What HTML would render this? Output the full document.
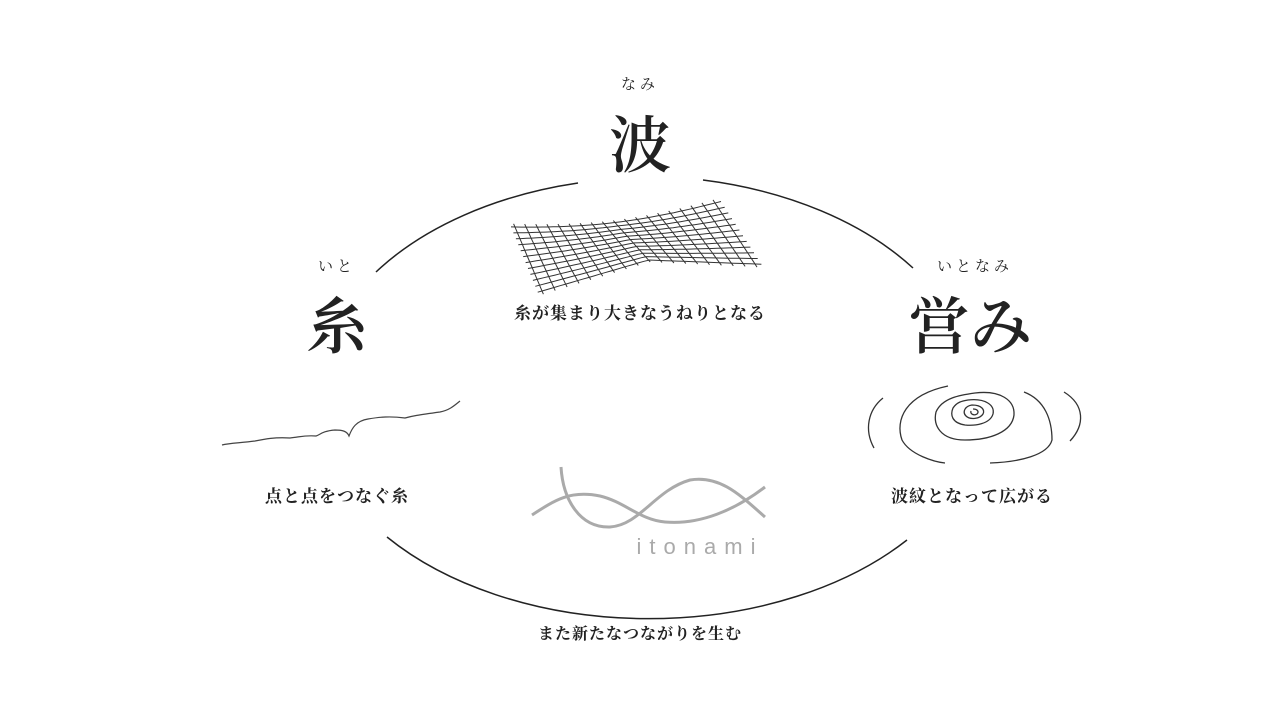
<!DOCTYPE html>
<html><head><meta charset="utf-8"><style>
html,body{margin:0;padding:0;background:#fff;}
#c{position:relative;width:1280px;height:720px;overflow:hidden;font-family:"Liberation Serif","Noto Serif CJK SC","Noto Sans CJK JP",serif;color:#222;}
.t{position:absolute;transform:translateX(-50%);white-space:nowrap;line-height:1;}
.r{font-size:15px;letter-spacing:4px;}
.b{font-size:62px;font-weight:600;}
.cap{font-size:17px;font-weight:bold;letter-spacing:1px;}
svg{position:absolute;left:0;top:0;}
</style></head><body><div id="c">
<svg width="1280" height="720" id="s">
<g fill="none" stroke="#222" stroke-width="1.5">
<path d="M376,272 A335,217 0 0 1 578,183"/>
<path d="M703,180 A335,217 0 0 1 913,268"/>
<path d="M387,537 A335,217 0 0 0 907,540"/>
</g>
<path fill="none" stroke="#444" stroke-width="1.2" d="M222,445 C230,443 240,443 255,441 C265,439 275,437 290,438 C300,437 305,435 316,436 C320,435 322,431 335,430 C342,430 347,431 349,436 C352,428 356,421 368,419 C380,417 390,416 405,418 C412,416 418,415 440,412 C450,410 455,405 460,401"/>
<g fill="none" stroke="#333" stroke-width="1.3">
<path d="M883,398 C868,410 864,430 874,448"/>
<path d="M948,386 C905,395 895,420 902,440 C910,455 935,462 945,463"/>
<path d="M1024,392 C1045,400 1052,420 1052,440 C1048,455 1020,462 990,463"/>
<path d="M1064,392 C1085,405 1085,425 1070,441"/>
<path d="M975,393 C1000,390 1015,400 1014,415 C1012,432 990,440 965,440 C940,440 933,425 936,412 C942,398 960,395 975,393 Z"/>
<path d="M968,400 C985,398 995,405 993,414 C990,424 975,426 965,425 C952,423 950,415 953,408 C957,402 962,401 968,400 Z"/>
<path d="M972,405 C982,405 985,410 983,414 C980,419 970,420 966,416 C962,412 965,406 972,405 Z"/>
<path d="M973,409 C978,409 979,412 977,414 C974,416 970,414 971,411"/>
</g>
<g fill="none" stroke="#aaa" stroke-width="3">
<path d="M532,515 C555,500 570,490 600,496 C625,502 640,520 665,522 C700,525 735,510 765,487"/>
<path d="M561,467 C563,500 580,528 610,527 C640,525 655,490 690,480 C720,475 740,495 765,517"/>
</g>
<g id="mesh" fill="none" stroke="#333" stroke-width="1"></g>
</svg>
<div class="t r" style="left:640px;top:78px;">なみ</div>
<div class="t b" style="left:640px;top:116px;">波</div>
<div class="t r" style="left:337px;top:260px;">いと</div>
<div class="t b" style="left:337px;top:297px;">糸</div>
<div class="t r" style="left:975px;top:260px;">いとなみ</div>
<div class="t b" style="left:970px;top:297px;">営み</div>
<div class="t cap" style="left:640px;top:305px;">糸が集まり大きなうねりとなる</div>
<div class="t cap" style="left:337px;top:488px;">点と点をつなぐ糸</div>
<div class="t cap" style="left:972px;top:488px;">波紋となって広がる</div>
<div class="t cap" style="left:640px;top:627px;font-size:16px;">また新たなつながりを生む</div>
<div class="t" style="left:700px;top:536px;font-family:'Liberation Sans',sans-serif;font-size:22px;letter-spacing:8px;color:#aaa;">itonami</div>
<script>
(function(){
var g=document.getElementById('mesh'),ns='http://www.w3.org/2000/svg';
function P(u,v){
 var tx=515+u*200, ty=227-10*u-14*u*u+4*Math.sin(u*Math.PI);
 var bx=542+u*213, by;
 if(u<0.5){by=291-62*u;}else{by=260+8*(u-0.5);}
 var x=tx+(bx-tx)*v, y=ty+(by-ty)*v;
 return [x,y];
}
function line(pts){var p=document.createElementNS(ns,'path');var d='';pts.forEach(function(q,i){d+=(i?'L':'M')+q[0].toFixed(1)+','+q[1].toFixed(1);});p.setAttribute('d',d);g.appendChild(p);}
var NH=12,NV=19,i,j,pts;
for(i=0;i<NH;i++){pts=[];for(j=0;j<=40;j++){pts.push(P(-0.02+j/40*1.05,i/(NH-1)));}line(pts);}
for(i=0;i<NV;i++){pts=[];for(j=0;j<=20;j++){pts.push(P(i/(NV-1),-0.05+j/20*1.1));}line(pts);}
})();
</script>
</div></body></html>
